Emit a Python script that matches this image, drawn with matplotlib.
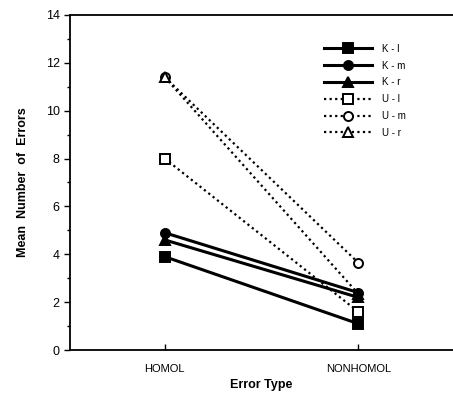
import matplotlib
matplotlib.use('Agg')
import matplotlib.pyplot as plt
from matplotlib.ticker import MultipleLocator

categories = ['HOMOL', 'NONHOMOL']
series_names = ['K - l', 'K - m', 'K - r', 'U - l', 'U - m', 'U - r']
k_l = [3.9, 1.1]
k_m = [4.9, 2.4]
k_r = [4.6, 2.2]
u_l = [8.0, 1.6]
u_m = [11.4, 3.65]
u_r = [11.4, 2.35]

plt.rcParams['font.family'] = ['Liberation Sans', 'DejaVu Sans']

fig = plt.figure(figsize=(4.53, 4.03), dpi=100)
ax = fig.add_axes([0.1545, 0.1315, 0.8455, 0.8313])

x = list(range(len(categories)))
values = [k_l, k_m, k_r, u_l, u_m, u_r]
markers = ['s', 'o', '^', 's', 'o', '^']
for i, (name, vals) in enumerate(zip(series_names, values)):
    known = i < 3
    ax.plot(x, vals, color='black',
            linestyle='-' if known else (0, (1, 1.5)),
            linewidth=2.2 if known else 1.6,
            marker=markers[i], markersize=6.5,
            markerfacecolor='black' if known else 'white',
            markeredgecolor='black', markeredgewidth=1.4,
            label=name, zorder=3 if known else 2)

ax.set_xlim(-0.49, 1.49)
ax.set_ylim(0, 14)
ax.set_xticks(x)
ax.set_xticklabels(categories, fontsize=8)
ax.yaxis.set_major_locator(MultipleLocator(2))
ax.yaxis.set_minor_locator(MultipleLocator(1))
ax.tick_params(axis='y', which='major', direction='out', length=4, width=1, labelsize=9)
ax.tick_params(axis='y', which='minor', direction='out', length=2, width=1)
ax.tick_params(axis='x', direction='in', length=4, width=1, pad=10)

ax.spines['right'].set_visible(False)
for s in ['left', 'top', 'bottom']:
    ax.spines[s].set_linewidth(1.3)

ax.set_ylabel('Mean  Number  of  Errors', fontsize=9, fontweight='bold', labelpad=12)
ax.set_xlabel('Error Type', fontsize=9, fontweight='bold', labelpad=4)

ax.legend(loc='upper right', bbox_to_anchor=(0.90, 0.94), frameon=False,
          fontsize=7, handlelength=5, labelspacing=0.7, handletextpad=1.0)

fig.savefig('out.png', dpi=100)
